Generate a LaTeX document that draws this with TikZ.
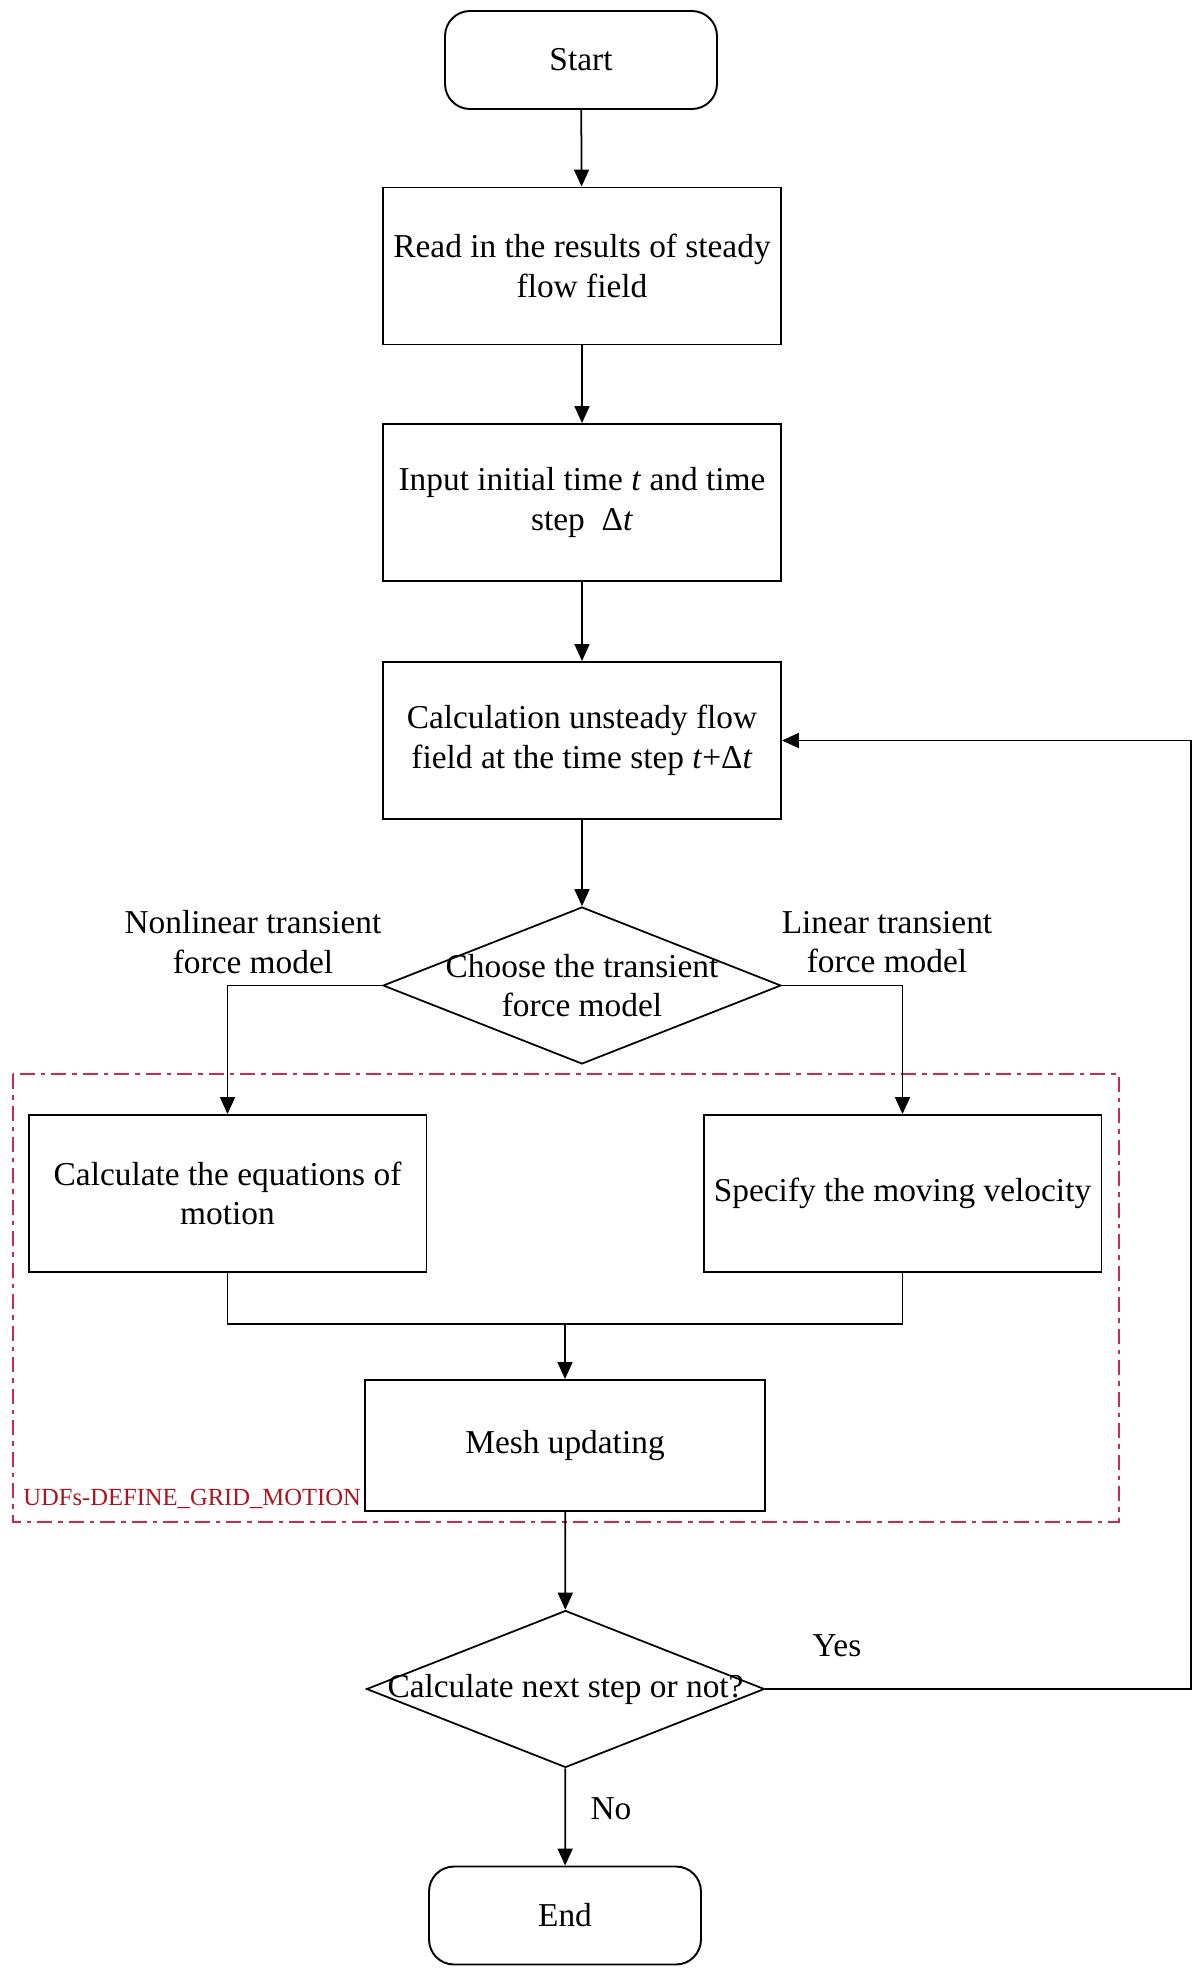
\documentclass[tikz,border=0pt]{standalone}
\usepackage{fontspec}
\setmainfont{Liberation Serif}
\usetikzlibrary{shapes.geometric,arrows.meta}

\definecolor{udfred}{RGB}{205,40,80}
\definecolor{labelred}{RGB}{175,20,30}

\begin{document}
\begin{tikzpicture}[
            x=0.02cm, y=-0.02cm,
            font=\fontsize{19}{22.5}\selectfont,
            every node/.style={align=center},
            terminal/.style={rectangle, rounded corners=5mm, draw, line width=1.1pt, minimum width=5.44cm, minimum height=1.96cm},
            process/.style={rectangle, draw, line width=1.1pt, minimum width=7.96cm, minimum height=3.14cm},
            decision/.style={diamond, draw, line width=1pt, minimum width=7.96cm, minimum height=3.14cm, inner sep=0pt},
            flow/.style={-{Triangle[length=3.4mm, width=3mm]}, line width=1pt},
            udfbox/.style={draw=udfred, line width=1pt, dash pattern=on 3mm off 1.2mm on 0.9mm off 1.2mm},
            udflabel/.style={text=labelred, font=\fontsize{14}{16}\selectfont, inner sep=0pt}
        ]

        \useasboundingbox (0,0) rectangle (1200,1980);

        % Dashed UDF region
        \draw[udfbox] (13,1074) rectangle (1119,1522);
        \node[udflabel, anchor=base west] (udf) at (23,1505) {UDFs-DEFINE\_GRID\_MOTION};

        % Main column
        \node[terminal] (start) at (581,60) {Start};
        \node[process] (read) at (582,266) {Read in the results of steady\\flow field};
        \node[process] (input) at (582,502.5) {Input initial time \textit{t} and time\\step \ Δ\textit{t}};
        \node[process] (calc) at (582,740.5) {Calculation unsteady flow\\field at the time step \textit{t}+Δ\textit{t}};
        \node[decision, label={[align=center]center:Choose the transient\\force model}] (choose) at (582,985.5) {};

        % Branches
        \node[process] (eqn) at (227.5,1193.5) {Calculate the equations of\\motion};
        \node[process] (vel) at (902.5,1193.5) {Specify the moving velocity};
        \node (nonlin) at (253,942) {Nonlinear transient\\force model};
        \node (lin) at (887,942) {Linear transient\\force model};

        % Lower column
        \node[process, minimum width=8cm, minimum height=2.62cm] (mesh) at (565,1445.5) {Mesh updating};
        \node[decision, label={center:Calculate next step or not?}] (next) at (565.5,1689) {};
        \node[terminal] (end) at (565,1915.5) {End};
        \node (yes) at (837,1646) {Yes};
        \node (no) at (611,1809) {No};

        \coordinate (merge) at (565,1324);
        \coordinate (loop) at (1191,1689);

        % Edges
        \draw[flow] (start) -- (read);
        \draw[flow] (read) -- (input);
        \draw[flow] (input) -- (calc);
        \draw[flow] (calc) -- (choose);
        \draw[flow] (choose.west) -| (eqn.north);
        \draw[flow] (choose.east) -| (vel.north);
        \draw[line width=1pt] (eqn.south) |- (merge);
        \draw[line width=1pt] (vel.south) |- (merge);
        \draw[flow] (merge) -- (mesh.north);
        \draw[flow] (mesh) -- (next);
        \draw[flow] (next) -- (end);
        \draw[flow] (next.east) -- (loop) |- (calc.east);

    \end{tikzpicture}
\end{document}
